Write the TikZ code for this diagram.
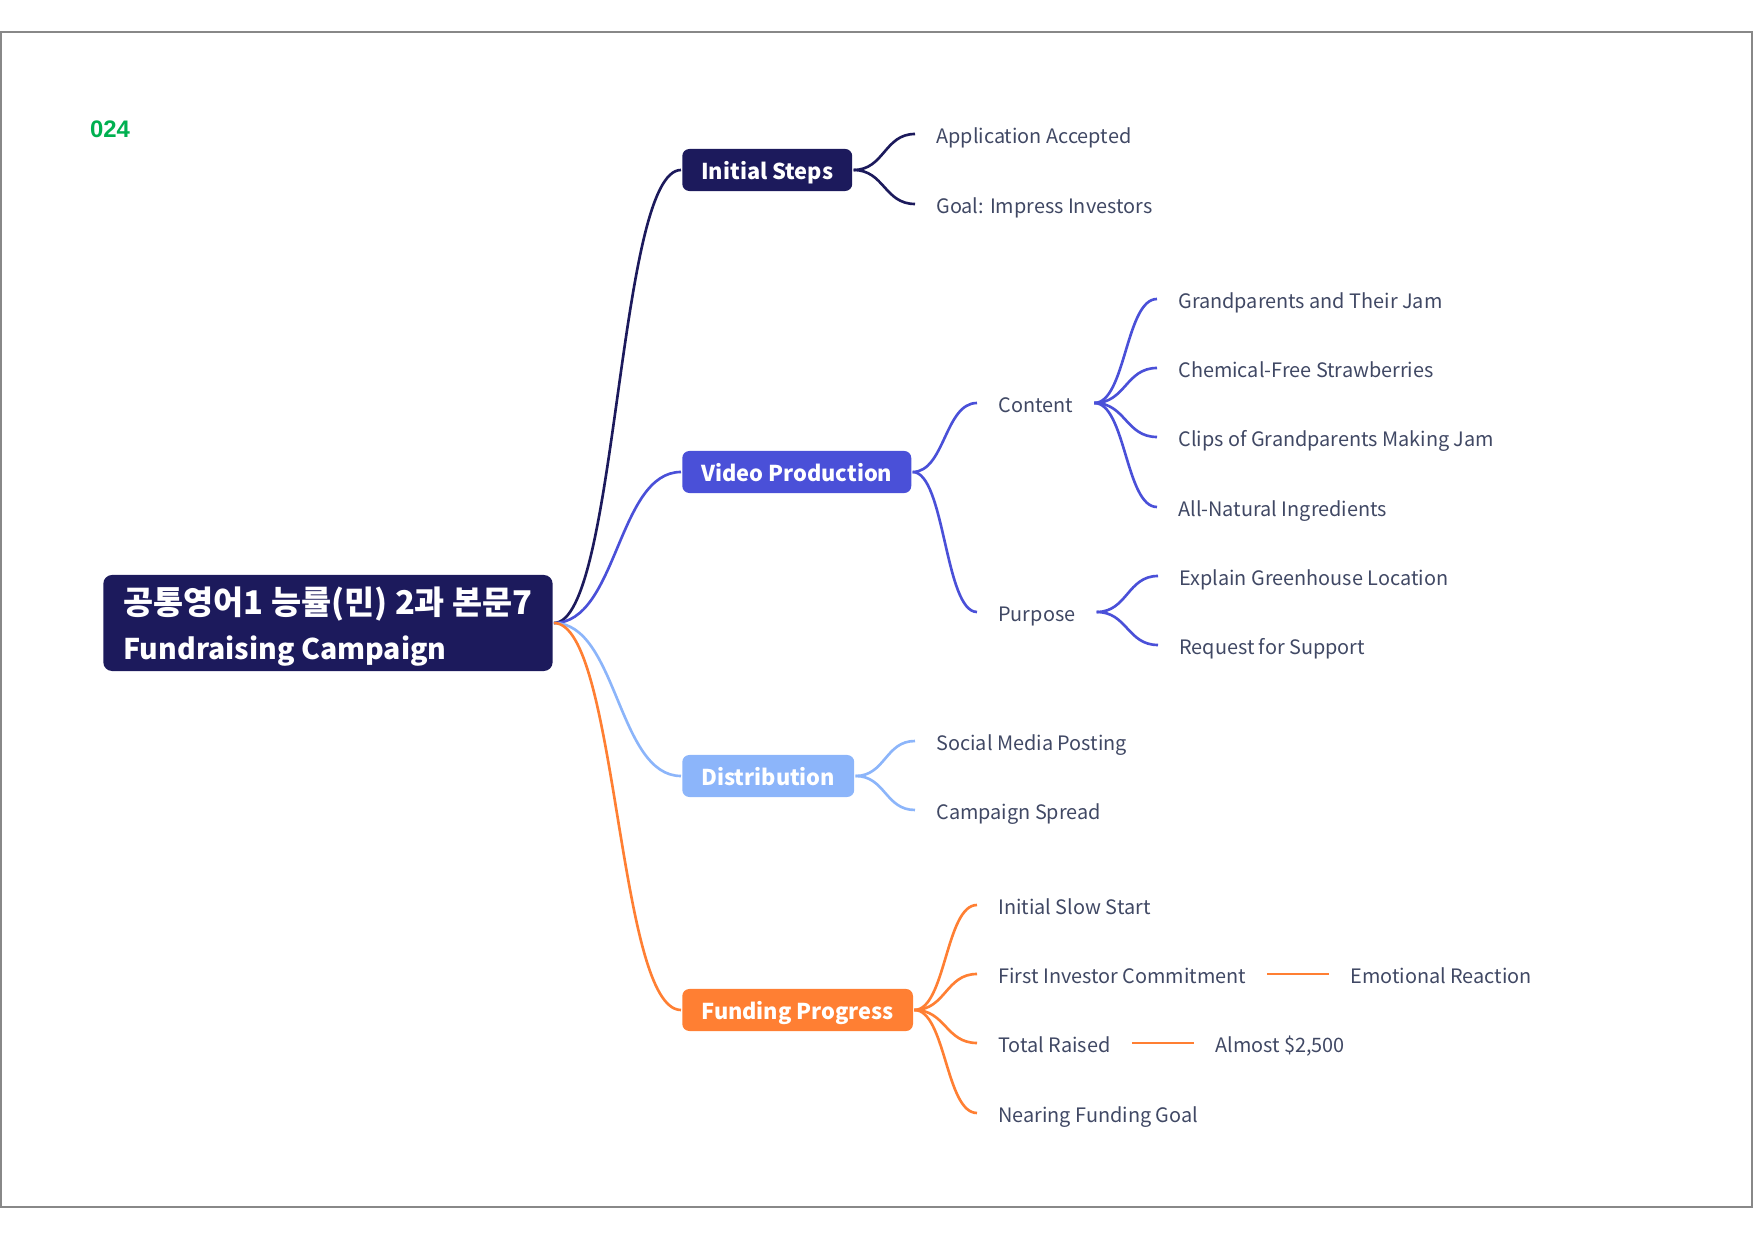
\documentclass[tikz,border=0pt]{standalone}
\usepackage{fontspec}
\setmainfont{Noto Sans CJK KR}
\newfontfamily\numfont{Liberation Sans}
\usetikzlibrary{positioning,calc}
\definecolor{navy}{RGB}{28,26,92}
\definecolor{vidblue}{RGB}{74,80,216}
\definecolor{skyblue}{RGB}{140,181,250}
\definecolor{fundorange}{RGB}{255,127,51}
\definecolor{leafgray}{RGB}{64,72,100}
\definecolor{taggreen}{RGB}{0,176,80}
\definecolor{framegray}{RGB}{136,136,136}
\tikzset{
  link/.style={to path={let \p1=(\tikztostart), \p2=(\tikztotarget) in
    .. controls ({(\x1+\x2)/2},\y1) and ({(\x1+\x2)/2},\y2) .. (\tikztotarget)}},
  rootbox/.style={fill=navy, text=white, rounded corners=2.5pt, align=left, anchor=west,
    inner xsep=0.2cm, inner ysep=0pt, minimum height=0.96cm, text depth=0pt,
    font=\bfseries\fontsize{8.1}{12.8}\selectfont},
  topic/.style={rounded corners=2pt, text=white, anchor=west, inner xsep=0.19cm, inner ysep=0pt,
    minimum height=0.42cm, text height=0.52em, text depth=0pt, font=\bfseries\fontsize{6.2}{7.5}\selectfont},
  leaf/.style={text=leafgray, anchor=west, inner xsep=0.2cm, inner ysep=0pt,
    text height=0.52em, text depth=0pt, font=\fontsize{5.65}{7}\selectfont}
}

\begin{document}
\begin{tikzpicture}[x=0.01cm, y=-0.01cm, line width=0.75pt]
  \useasboundingbox (0,0) rectangle (1754,1240);
  \draw[framegray, line width=0.5pt] (1,32) rectangle (1752,1207);
  \node[text=taggreen, font=\numfont\bfseries\fontsize{6.8}{8}\selectfont] (tag) at (110,129) {024};

  % root and main topics
  \node[rootbox] (root) at (102,623) {{\fontsize{9.3}{12.8}\selectfont 공통영어1 능률(민) 2과 본문7}\\Fundraising Campaign};
  \node[topic, fill=navy] (steps) at (681,170) {Initial Steps};
  \node[topic, fill=vidblue] (video) at (681,472) {Video Production};
  \node[topic, fill=skyblue] (distrib) at (681,776) {Distribution};
  \node[topic, fill=fundorange] (funding) at (681,1010) {Funding Progress};

  % initial steps
  \node[leaf] (accepted) at (915,134) {Application Accepted};
  \node[leaf] (goal) at (915,204) {Goal: Impress Investors};

  % video production
  \node[leaf] (content) at (977,403) {Content};
  \node[leaf] (purpose) at (977,612) {Purpose};
  \node[leaf] (jam) at (1157,299) {Grandparents and Their Jam};
  \node[leaf] (berries) at (1157,368) {Chemical-Free Strawberries};
  \node[leaf] (clips) at (1157,437) {Clips of Grandparents Making Jam};
  \node[leaf] (natural) at (1157,507) {All-Natural Ingredients};
  \node[leaf] (greenhouse) at (1158,576) {Explain Greenhouse Location};
  \node[leaf] (support) at (1158,645) {Request for Support};

  % distribution
  \node[leaf] (social) at (915,741) {Social Media Posting};
  \node[leaf] (spread) at (915,810) {Campaign Spread};

  % funding progress
  \node[leaf] (slow) at (977,905) {Initial Slow Start};
  \node[leaf] (investor) at (977,974) {First Investor Commitment};
  \node[leaf] (emotion) at (1329,974) {Emotional Reaction};
  \node[leaf] (raised) at (977,1043) {Total Raised};
  \node[leaf] (amount) at (1194,1043) {Almost \$2,500};
  \node[leaf] (nearing) at (977,1113) {Nearing Funding Goal};

  \draw[navy] (root.east) to[link] (steps.west);
  \draw[vidblue] (root.east) to[link] (video.west);
  \draw[skyblue] (root.east) to[link] (distrib.west);
  \draw[fundorange] (root.east) to[link] (funding.west);

  \foreach \kid in {accepted,goal}
    \draw[navy] (steps.east) to[link] (\kid.west);
  \foreach \kid in {content,purpose}
    \draw[vidblue] (video.east) to[link] (\kid.west);
  \foreach \kid in {jam,berries,clips,natural}
    \draw[vidblue] (content.east) to[link] (\kid.west);
  \foreach \kid in {greenhouse,support}
    \draw[vidblue] (purpose.east) to[link] (\kid.west);
  \foreach \kid in {social,spread}
    \draw[skyblue] (distrib.east) to[link] (\kid.west);
  \foreach \kid in {slow,investor,raised,nearing}
    \draw[fundorange] (funding.east) to[link] (\kid.west);

  \draw[fundorange] (investor) -- (emotion);
  \draw[fundorange] (raised) -- (amount);
\end{tikzpicture}
\end{document}
